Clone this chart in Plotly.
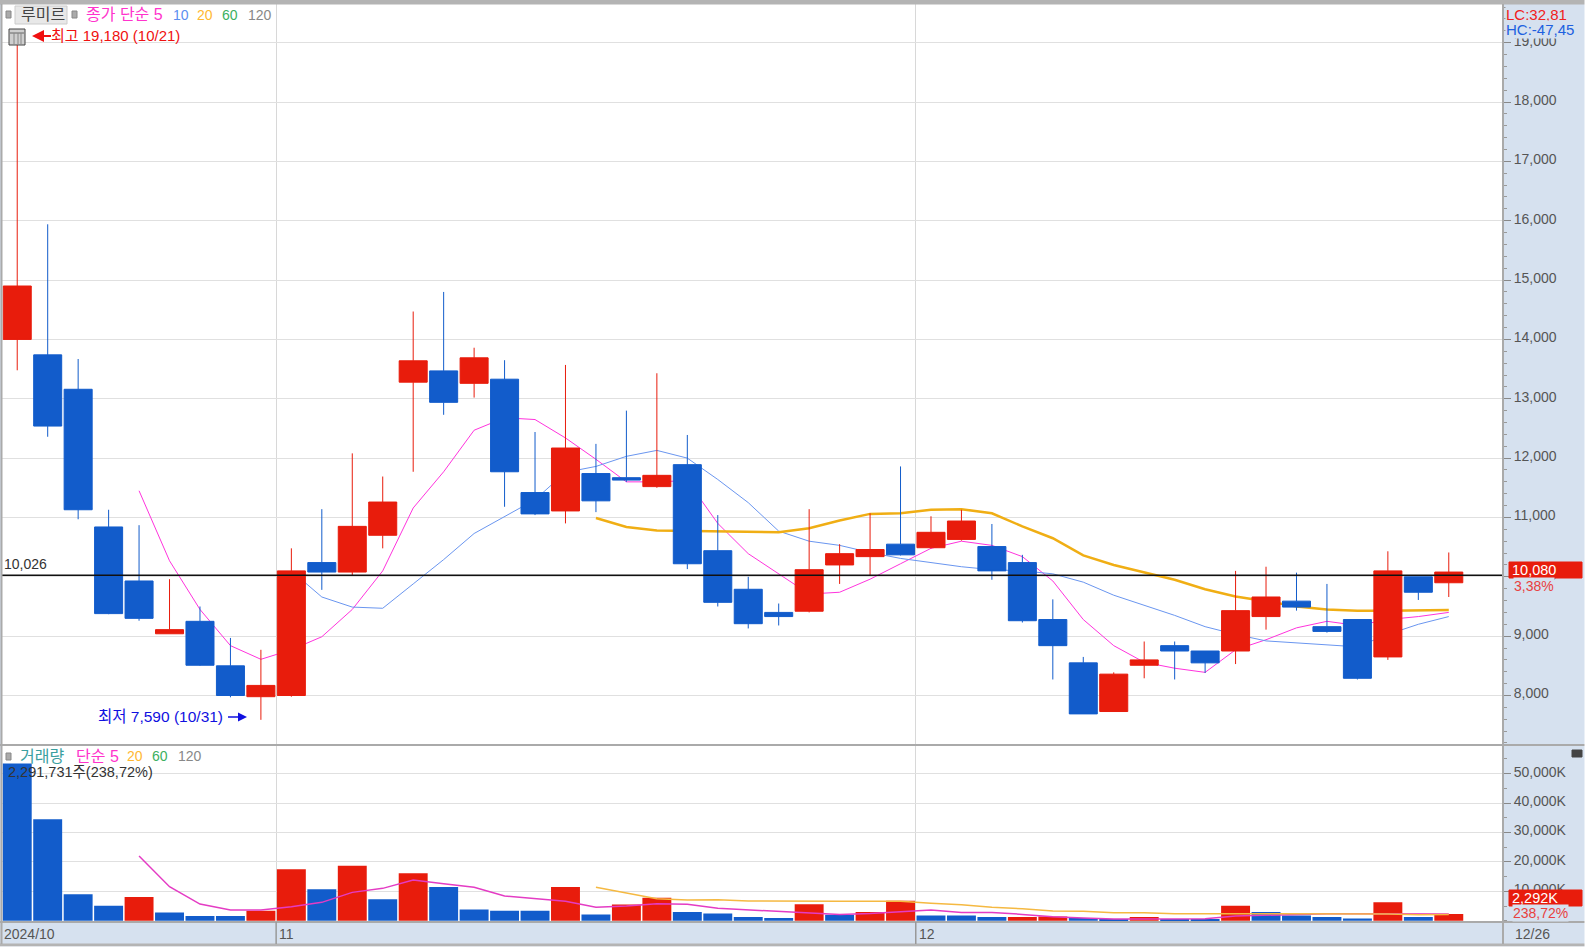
#Daily candles, moving averages and volume for one stock, 2024/10/21 - 2024/12/26.

import plotly.graph_objects as go

W, H = 1589, 948

dates = ["10/21", "10/22", "10/23", "10/24", "10/25", "10/28", "10/29", "10/30", "10/31",
         "11/01", "11/04", "11/05", "11/06", "11/07", "11/08", "11/11", "11/12", "11/13", "11/14", "11/15",
         "11/18", "11/19", "11/20", "11/21", "11/22", "11/25", "11/26", "11/27", "11/28", "11/29",
         "12/02", "12/03", "12/04", "12/05", "12/06", "12/09", "12/10", "12/11", "12/12", "12/13",
         "12/16", "12/17", "12/18", "12/19", "12/20", "12/23", "12/24", "12/26"]

opens = [14000, 13740, 13160, 10840, 9930, 9040, 9250, 8500, 7980, 8000, 10240, 10080, 10700, 13280, 13470, 13260,
         13330, 11420, 11110, 11740, 11670, 11520, 11890, 10440, 9790, 9400, 9420, 10200, 10340, 10550,
         10490, 10630, 10510, 10240, 9280, 8550, 7730, 8510, 8840, 8750, 8750, 9330, 9590, 9160, 9280, 8650, 10000, 9900]
highs = [19180, 15940, 13670, 11130, 10870, 9960, 9500, 8970, 8770, 10480, 11140, 12080, 11690, 14470, 14800, 13860,
         13650, 12440, 13570, 12240, 12800, 13430, 12390, 11040, 10000, 9550, 11140, 10550, 11070, 11860,
         11020, 11130, 10890, 10370, 9620, 8650, 8390, 8910, 8910, 8750, 10100, 10170, 10070, 9880, 9280, 10430, 10000, 10410]
lows = [13480, 12360, 10970, 9370, 9260, 9040, 8500, 7970, 7590, 7980, 9780, 10020, 10480, 11770, 12730, 13020,
        11180, 11040, 10900, 11090, 11600, 11500, 10130, 9500, 9130, 9180, 9400, 9880, 10020, 10360,
        10480, 10610, 9950, 9230, 8270, 7690, 7730, 8290, 8270, 8380, 8530, 9110, 9430, 9060, 8270, 8600, 9610, 9660]
closes = [14900, 12540, 11130, 9380, 9300, 9110, 8510, 8000, 8170, 10100, 10080, 10850, 11260, 13640, 12940, 13690,
          11770, 11060, 12170, 11280, 11630, 11710, 10220, 9570, 9210, 9330, 10120, 10390, 10460, 10370,
          10750, 10940, 10100, 9260, 8840, 7690, 8360, 8600, 8750, 8550, 9430, 9660, 9490, 9080, 8290, 10100, 9740, 10080]

ma5 = [None] * 4 + [11450, 10270, 9450, 8840, 8610, 8770, 8990, 9450, 10100, 11160, 11770, 12470, 12680, 12650,
                    12340, 11980, 11600, 11600, 11620, 10900, 10390, 10050, 9710, 9740, 9960, 10220, 10480, 10600,
                    10530, 10340, 9930, 9280, 8840, 8560, 8460, 8390, 8770, 8940, 9140, 9250, 9180, 9280, 9330, 9400]
ma10 = [None] * 9 + [10100, 9660, 9490, 9470, 9880, 10290, 10730, 11020, 11300, 11760, 11860, 12030, 12130, 12000,
                     11640, 11250, 10770, 10600, 10530, 10410, 10310, 10240, 10170, 10120, 10100, 10050, 9910, 9690,
                     9520, 9350, 9160, 9030, 8920, 8890, 8850, 8820, 9030, 9200, 9330]
ma20 = [None] * 19 + [10990, 10840, 10780, 10770, 10770, 10750, 10750, 10820, 10950, 11060, 11070, 11130, 11140,
                      11070, 10850, 10650, 10360, 10200, 10080, 9950, 9790, 9670, 9590, 9500, 9450, 9430, 9430, 9430, 9440]

# volume in thousands of shares
volume = [53500, 34470, 8960, 5100, 8050, 2830, 1590, 1590, 3400, 17460, 10660, 18700, 7260, 16100, 11450, 3850,
          3400, 3400, 11450, 2150, 5550, 7820, 2950, 2490, 1250, 910, 5560, 2040, 2950, 6800,
          1810, 1810, 1240, 1300, 1470, 910, 450, 1250, 570, 570, 5100, 2950, 1810, 1250, 790, 6240, 1250, 2292]
vol_ma5 = [None] * 4 + [22000, 11570, 5670, 3630, 3630, 4760, 6240, 9640, 11000, 13830, 12590, 11340, 8390, 7480,
                        6580, 4540, 4990, 5780, 5560, 4200, 3630, 3060, 2610, 2150, 2490, 3180, 3630, 2830,
                        2830, 2150, 1360, 910, 570, 570, 570, 680, 1590, 1930, 2270, 2380, 2380, 2380, 2270, 2270]
vol_ma20 = [None] * 19 + [11340, 9300, 7480, 7030, 7140, 6690, 6580, 6580, 6580, 6580, 6580, 5900, 5440,
                          4540, 4080, 3290, 3180, 2720, 2720, 2380, 2380, 2380, 2150, 2270, 2270, 2270, 2270, 2040, 2150]

price_ticks = list(range(8000, 20000, 1000))
vol_ticks = [10000, 20000, 30000, 40000, 50000]
vol_tick_text = ["10,000K", "20,000K", "30,000K", "40,000K", "50,000K"]
month_labels = ["2024/10", "11", "12"]

RED, BLUE = "#e81c0c", "#125ccb"
BAND = "#d6e1ef"
FONT = "Liberation Sans, Noto Sans CJK KR, sans-serif"

xs = list(range(len(dates)))
vol_colors = [RED if i > 0 and volume[i] > volume[i - 1] else BLUE for i in xs]
month_starts = [i - 0.5 for i in xs[1:] if dates[i][:2] != dates[i - 1][:2]]


def px(x):
    return x / W


def py(y):
    return 1 - y / H


def label(x, y, text, color, size=14, bg=None, anchor="left"):
    return dict(xref="paper", yref="paper", x=px(x), y=py(y), text=text, showarrow=False, xanchor=anchor,
                yanchor="middle", font=dict(family=FONT, size=size, color=color), bgcolor=bg,
                borderpad=0)


def square(x0, y0, x1, y1, fill, line=None):
    return dict(type="rect", xref="paper", yref="paper", x0=px(x0), x1=px(x1), y0=py(y0), y1=py(y1),
                fillcolor=fill, line=dict(color=line or fill, width=1), layer="above")


def hline(y, color="#aaaaaa", width=2, x0=0, x1=W):
    return dict(type="line", xref="paper", yref="paper", x0=px(x0), x1=px(x1), y0=py(y), y1=py(y),
                line=dict(color=color, width=width), layer="above")


fig = go.Figure()

# lines sit on the lower axis so that the candles cover them
fig.add_trace(go.Scatter(x=xs, y=ma5, mode="lines", line=dict(color="#ff33dd", width=1), yaxis="y", xaxis="x"))
fig.add_trace(go.Scatter(x=xs, y=ma10, mode="lines", line=dict(color="#6a96f0", width=1), yaxis="y", xaxis="x"))
fig.add_trace(go.Scatter(x=xs, y=ma20, mode="lines", line=dict(color="#f0ae14", width=2.5), yaxis="y", xaxis="x"))

fig.add_trace(go.Candlestick(x=xs, open=opens, high=highs, low=lows, close=closes, yaxis="y3", xaxis="x",
                             text=dates, whiskerwidth=0,
                             increasing=dict(line=dict(color=RED, width=1), fillcolor=RED),
                             decreasing=dict(line=dict(color=BLUE, width=1), fillcolor=BLUE)))

fig.add_trace(go.Bar(x=xs, y=volume, marker=dict(color=vol_colors, line=dict(width=0)), yaxis="y2", xaxis="x"))
fig.add_trace(go.Scatter(x=xs, y=vol_ma5, mode="lines", line=dict(color="#e43cc4", width=1.5), yaxis="y2", xaxis="x"))
fig.add_trace(go.Scatter(x=xs, y=vol_ma20, mode="lines", line=dict(color="#f5b942", width=1.5), yaxis="y2", xaxis="x"))

price_range = [7166, 19652]
axis_font = dict(family=FONT, size=14, color="#555555")

fig.update_layout(
    width=W, height=H, margin=dict(l=0, r=0, t=0, b=0),
    paper_bgcolor=BAND, plot_bgcolor="white", showlegend=False,
    boxgap=0.08, boxgroupgap=0, bargap=0.05,
    xaxis=dict(domain=[px(2), px(1503)], range=[-0.5, 48.78], anchor="y2", tickvals=month_starts,
               showticklabels=False, ticks="", showgrid=True, gridcolor="#d8d8d8", gridwidth=1,
               zeroline=False, rangeslider=dict(visible=False)),
    yaxis=dict(domain=[py(745), py(4)], range=price_range, side="right", anchor="x", tickvals=price_ticks,
               tickformat=",", showgrid=True, gridcolor="#e0e0e0", gridwidth=1, zeroline=False,
               ticks="outside", ticklen=7, tickcolor="#888888", tickfont=axis_font, ticklabelshift=-2,
               minor=dict(dtick=200, ticks="outside", ticklen=3, tickcolor="#999999", showgrid=False)),
    yaxis3=dict(range=price_range, overlaying="y", side="right", anchor="x", visible=False),
    yaxis2=dict(domain=[py(921.7), py(745)], range=[-340, 59760], side="right", anchor="x", tickvals=vol_ticks,
                ticktext=vol_tick_text, showgrid=True, gridcolor="#e0e0e0", gridwidth=1, zeroline=False,
                ticks="outside", ticklen=7, tickcolor="#888888", tickfont=axis_font, ticklabelshift=-2,
                minor=dict(dtick=5000, ticks="outside", ticklen=3, tickcolor="#999999", showgrid=False)),
)

shapes = [
    dict(type="line", xref="paper", yref="y", x0=px(2), x1=px(1503), y0=10026, y1=10026,
         line=dict(color="#111111", width=1.5), layer="above"),
    hline(2, "#b4b4b4", 5),
    hline(745),
    hline(922),
    hline(945, "#b4b4b4", 3),
    square(0, 947, W, 948, "white"),
    square(1585, 0, W, 948, "white"),
    dict(type="line", xref="paper", yref="paper", x0=px(1503), x1=px(1503), y0=py(944), y1=py(4),
         line=dict(color="#aaaaaa", width=2), layer="above"),
    dict(type="line", xref="paper", yref="paper", x0=px(1.5), x1=px(1.5), y0=py(944), y1=py(4),
         line=dict(color="#aaaaaa", width=2), layer="above"),
    # stock name button and small markers
    square(15, 6, 67, 24, "#e8e8e8", "#cccccc"),
    square(6, 11, 11, 18, "#aaaaaa", "#888888"),
    square(72, 11, 77, 18, "#aaaaaa", "#888888"),
    square(6, 753, 11, 760, "#aaaaaa", "#888888"),
    # calendar icon
    square(9, 29, 25, 45, "#cfcfcf", "#444444"),
    hline(33, "#666666", 1, 10, 24),
    # close button of the volume panel
    square(1572, 750, 1582, 757, "#444444"),
    # current value boxes on the right axis
    square(1509, 562, 1582, 578, RED),
    square(1509, 890, 1582, 906, RED),
]
for x_pos in (14, 18, 21):
    shapes.append(dict(type="line", xref="paper", yref="paper", x0=px(x_pos), x1=px(x_pos), y0=py(33), y1=py(44),
                       line=dict(color="#888888", width=1), layer="above"))
for boundary in month_starts:
    shapes.append(dict(type="line", xref="x", yref="paper", x0=boundary, x1=boundary, y0=py(944), y1=py(922),
                       line=dict(color="#999999", width=1.5), layer="above"))
fig.update_layout(shapes=shapes)

annotations = [
    label(20, 15, "루미르", "#444444", 16),
    label(85, 15, "종가 단순 5", "#ff33cc", 16),
    label(172, 15, "10", "#5b8ff0"),
    label(196, 15, "20", "#ffb833"),
    label(221, 15, "60", "#3cb060"),
    label(247, 15, "120", "#888888"),
    label(50, 35, "최고 19,180 (10/21)", "#f01010", 15),
    label(97, 716, "최저 7,590 (10/31)", "#1010e0", 15.5),
    label(3, 564, "10,026", "#333333"),
    label(1505, 14, "LC:32,81", "#f02020", 15, bg=BAND),
    label(1505, 29, "HC:-47,45", "#2060e0", 15, bg=BAND),
    label(1511, 570, "10,080", "white", 14.5),
    label(1513, 586, "3,38%", "#e84040", bg=BAND),
    label(19, 756, "거래량", "#3aa0a0", 16),
    label(75, 756, "단순 5", "#ff33cc", 16),
    label(126, 756, "20", "#ffb833"),
    label(151, 756, "60", "#3cb060"),
    label(177, 756, "120", "#888888"),
    label(7, 772, "2,291,731주(238,72%)", "#333333", 14.5),
    label(1511, 898, "2,292K", "white", 14.5),
    label(1512, 913, "238,72%", "#e84040", bg=BAND),
    label(1514, 934, dates[-1], "#555555"),
    label(3, 934, month_labels[0], "#555555"),
    dict(xref="paper", yref="paper", x=px(32), y=py(36), ax=22, ay=0, text=" ", showarrow=True, arrowhead=2,
         arrowsize=1.2, arrowwidth=2, arrowcolor="#f01010"),
    dict(xref="paper", yref="paper", x=px(247), y=py(717), ax=-22, ay=0, text=" ", showarrow=True, arrowhead=2,
         arrowsize=1.2, arrowwidth=1.5, arrowcolor="#1010e0"),
]
for boundary, text in zip(month_starts, month_labels[1:]):
    annotations.append(dict(xref="x", yref="paper", x=boundary, xshift=1, y=py(934), text=text, showarrow=False,
                            xanchor="left", yanchor="middle", font=dict(family=FONT, size=14, color="#555555")))
fig.update_layout(annotations=annotations)

fig.write_html("out.html", config={"displayModeBar": False}, post_script="document.body.style.margin='0';")
